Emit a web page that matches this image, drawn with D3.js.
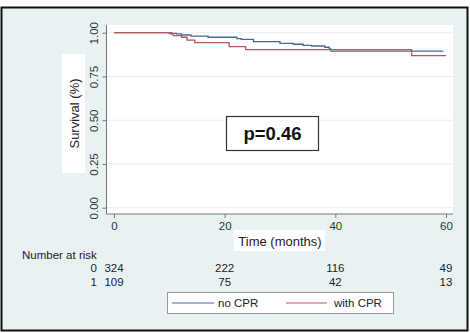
<!DOCTYPE html>
<html>
<head>
<meta charset="utf-8">
<script src="https://cdn.jsdelivr.net/npm/d3@7"></script>
<style>
  body { margin: 0; background: #fff; }
  svg text { font-family: "Liberation Sans", Arial, sans-serif; fill: #222; }
</style>
</head>
<body>
<div id="chart"></div>
<script>
/* DATA */
const noCprTime = [0, 10.4, 11.3, 12.2, 13.9, 17.0, 22.2, 23.0, 25.2, 30.0, 32.4, 34.2, 35.7, 38.1, 38.9, 39.2, 59.5];
const noCprSurv = [1, 0.996, 0.993, 0.987, 0.981, 0.974, 0.966, 0.962, 0.949, 0.939, 0.934, 0.928, 0.924, 0.917, 0.907, 0.895, 0.895];
const cprTime = [0, 10.1, 10.7, 12.2, 13.2, 14.6, 20.8, 23.8, 53.8, 60];
const cprSurv = [1, 0.993, 0.983, 0.974, 0.958, 0.943, 0.921, 0.903, 0.869, 0.869];

const xTicks = [0, 20, 40, 60];
const yTicks = [0, 0.25, 0.5, 0.75, 1];
const riskGroups = ["0", "1"];
const riskNoCpr = [324, 222, 116, 49];
const riskCpr = [109, 75, 42, 13];
const legendLabels = ["no CPR", "with CPR"];
const colors = ["#4a6897", "#b5585a"];
const pText = "p=0.46";

/* LAYOUT */
const width = 470, height = 333;
const plot = { left: 106.5, right: 453, top: 25, bottom: 214 };

const svg = d3.select("#chart").append("svg")
  .attr("width", width).attr("height", height);

// outer frame
svg.append("rect")
  .attr("x", 1.5).attr("y", 7.5).attr("width", 466).attr("height", 323)
  .attr("fill", "#e9f2f3").attr("stroke", "#111").attr("stroke-width", 2);

// plot area
svg.append("rect")
  .attr("x", plot.left).attr("y", plot.top)
  .attr("width", plot.right - plot.left).attr("height", plot.bottom - plot.top)
  .attr("fill", "#fff");

const x = d3.scaleLinear().domain([0, 60]).range([114, 446]);
const y = d3.scaleLinear().domain([0, 1]).range([207.7, 32.7]);

// gridlines
svg.append("g").selectAll("line").data(yTicks).join("line")
  .attr("x1", plot.left).attr("x2", plot.right)
  .attr("y1", d => y(d)).attr("y2", d => y(d))
  .attr("stroke", "#e6f0f2").attr("stroke-width", 1);

// y axis
const yAxis = svg.append("g")
  .attr("transform", `translate(${plot.left},0)`)
  .call(d3.axisLeft(y).tickValues(yTicks).tickFormat(d3.format(".2f")).tickSize(4).tickSizeOuter(0));
yAxis.select(".domain").attr("d", `M0,${plot.top}V${plot.bottom}`).attr("stroke", "#777");
yAxis.selectAll(".tick line").attr("stroke", "#777");
yAxis.selectAll(".tick text")
  .attr("x", 0).attr("dy", 0)
  .attr("transform", "translate(-9,0) rotate(-90)")
  .attr("text-anchor", "middle")
  .style("font-size", "11.5px").style("fill", "#333")
  .attr("font-family", null);

// x axis
const xAxis = svg.append("g")
  .attr("transform", `translate(0,${plot.bottom})`)
  .call(d3.axisBottom(x).tickValues(xTicks).tickSize(4).tickSizeOuter(0));
xAxis.select(".domain").attr("d", `M${plot.left},0H${plot.right}`).attr("stroke", "#777");
xAxis.selectAll(".tick line").attr("stroke", "#777");
xAxis.selectAll(".tick text")
  .attr("y", 8)
  .style("font-size", "11.5px").style("fill", "#333")
  .attr("font-family", null);

// axis titles with white boxes
svg.append("rect").attr("x", 62).attr("y", 54).attr("width", 23).attr("height", 119).attr("fill", "#fff");
svg.append("text")
  .attr("transform", "translate(78.5,113.5) rotate(-90)")
  .attr("text-anchor", "middle")
  .style("font-size", "13px")
  .text("Survival (%)");

svg.append("rect").attr("x", 234).attr("y", 230).attr("width", 91).attr("height", 21).attr("fill", "#fff");
svg.append("text")
  .attr("x", 280).attr("y", 245.5)
  .attr("text-anchor", "middle")
  .style("font-size", "13px")
  .text("Time (months)");

// survival curves
const line = d3.line().x(d => x(d[0])).y(d => y(d[1])).curve(d3.curveStepAfter);
const series = [
  d3.zip(noCprTime, noCprSurv),
  d3.zip(cprTime, cprSurv)
];
svg.append("g").selectAll("path").data(series).join("path")
  .attr("d", line)
  .attr("fill", "none")
  .attr("stroke", (d, i) => colors[i])
  .attr("stroke-width", 1.3);

// p value box
svg.append("rect")
  .attr("x", 226.5).attr("y", 116.5).attr("width", 92).attr("height", 34)
  .attr("fill", "#fff").attr("stroke", "#333").attr("stroke-width", 1.2);
svg.append("text")
  .attr("x", 272.5).attr("y", 140)
  .attr("text-anchor", "middle")
  .style("font-size", "18.5px").style("font-weight", "bold").style("fill", "#111")
  .text(pText);

// number at risk table
svg.append("text").attr("x", 22).attr("y", 259).style("font-size", "11.5px").text("Number at risk");
[riskNoCpr, riskCpr].forEach((row, r) => {
  const ty = 272 + r * 13.5;
  svg.append("text").attr("x", 97).attr("y", ty).attr("text-anchor", "end")
    .style("font-size", "11.5px").text(riskGroups[r]);
  svg.append("g").selectAll("text").data(row).join("text")
    .attr("x", (d, i) => x(xTicks[i]))
    .attr("y", ty)
    .attr("text-anchor", "middle")
    .style("font-size", "11.5px")
    .text(d => d);
});

// legend
svg.append("rect")
  .attr("x", 167.5).attr("y", 292.5).attr("width", 226).attr("height", 21)
  .attr("fill", "#fff").attr("stroke", "#999");
const legX = [[172, 214, 218], [286, 327, 334]];
legendLabels.forEach((lab, i) => {
  svg.append("line")
    .attr("x1", legX[i][0]).attr("x2", legX[i][1]).attr("y1", 303).attr("y2", 303)
    .attr("stroke", colors[i]).attr("stroke-width", 1.2);
  svg.append("text").attr("x", legX[i][2]).attr("y", 307)
    .style("font-size", "11.5px").text(lab);
});
</script>
</body>
</html>
